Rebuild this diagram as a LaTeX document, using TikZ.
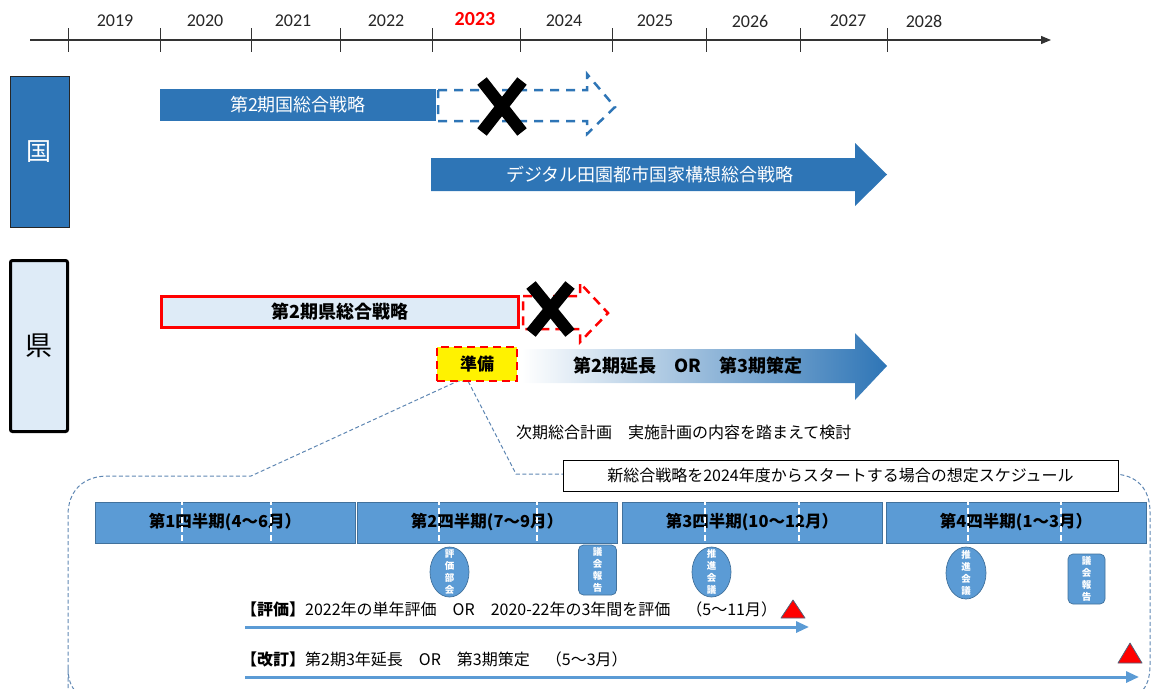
\documentclass[tikz,border=0pt]{standalone}
\usepackage{fontspec}
\setmainfont{Noto Sans CJK JP}
\newfontfamily\yrfont{Carlito}
\usetikzlibrary{arrows.meta,shapes.geometric}
\definecolor{dblue}{HTML}{2E75B6}
\definecolor{qblue}{HTML}{5B9BD5}
\definecolor{qborder}{HTML}{41719C}
\definecolor{lblue}{HTML}{DEEBF7}
\definecolor{cline}{HTML}{5F87B3}
\definecolor{tricol}{HTML}{50627A}
\newcommand{\fsz}[1]{\fontsize{#1}{#1}\selectfont}
\begin{document}
\begin{tikzpicture}[x=1pt,y=-1pt,
  yearlbl/.style={font=\yrfont\fsz{18}, text=black!85, inner sep=0pt},
  tickln/.style={line width=1pt, draw=black!80},
  kunibox/.style={draw=black!85, line width=0.8pt, fill=dblue, minimum width=59pt, minimum height=151pt, text=white, font=\fsz{25}, inner sep=0pt},
  kenbox/.style={draw=black, line width=3pt, rounded corners=2pt, fill=lblue, minimum width=57pt, minimum height=171pt, font=\fsz{27}, inner sep=0pt},
  bluebar/.style={fill=dblue, minimum width=276pt, minimum height=32pt, text=white, font=\fsz{18}, inner sep=0pt},
  kenbar/.style={fill=lblue, draw=red, line width=3pt, minimum width=357pt, minimum height=31pt, font=\bfseries\fsz{18}, inner sep=0pt},
  prepbox/.style={fill=yellow, draw=red, line width=2.5pt, dash pattern=on 8pt off 5pt, minimum width=80pt, minimum height=34pt, font=\bfseries\fsz{17}, inner sep=0pt},
  ghostblue/.style={draw=dblue, line width=2.5pt, dash pattern=on 9pt off 7pt},
  ghostred/.style={draw=red, line width=2.5pt, dash pattern=on 9pt off 6pt},
  crossln/.style={line width=12pt, draw=black},
  fatarrow/.style={fill=dblue},
  plain/.style={font=\fsz{16}, inner sep=0pt},
  callout/.style={draw=cline, line width=1pt, dash pattern=on 4pt off 2.5pt},
  titlebox/.style={draw=black, line width=0.9pt, fill=white, minimum width=555pt, minimum height=31pt, font=\fsz{16}, inner sep=0pt},
  qbar/.style={fill=qblue, draw=qborder, line width=0.8pt, minimum width=260pt, minimum height=41pt, font=\bfseries\fsz{16.5}, inner sep=0pt},
  qsep/.style={draw=white, line width=2pt, dash pattern=on 6pt off 3pt},
  evnode/.style={ellipse, fill=qblue, draw=qborder, line width=0.7pt, minimum width=39pt, minimum height=50pt, inner sep=0pt},
  repnode/.style={rectangle, rounded corners=5pt, fill=qblue, draw=qborder, line width=0.7pt, minimum width=38pt, minimum height=50pt, inner sep=0pt},
  vtext/.style={text=white, font=\bfseries\fontsize{9.5}{11.8}\selectfont, align=center, inner sep=0pt},
  schedarrow/.style={draw=qblue, line width=3pt, -{Triangle[length=13pt,width=11pt]}},
  redtri/.style={fill=red, draw=tricol, line width=0.8pt, line join=round}
]
\useasboundingbox (0,0) rectangle (1151,688);

% ---------- timeline ----------
\coordinate (tlS) at (30,40);
\coordinate (tlE) at (1051,40);
\draw[line width=1.2pt, draw=black!80, -{Triangle[length=10pt,width=8pt]}] (tlS) -- (tlE);
\foreach \x in {68,160,251,340,432,520,612,706,800,887}
  \draw[tickln] (\x,28) -- (\x,52);
\foreach \x/\yr in {115/2019,205/2020,293/2021,386/2022,564/2024,655/2025,750/2026,848/2027,924/2028}
  \node[yearlbl] (yr\yr) at (\x,21) {\yr};
\node[yearlbl, text=red, font=\yrfont\bfseries\fsz{20}] (yr2023) at (475,19) {2023};

% ---------- side labels ----------
\node[kunibox] (kuni) at (39.5,152) {国};
\node[kenbox] (ken) at (39,346) {県};

% ---------- national row ----------
\node[bluebar] (kuni2) at (298,105) {第2期国総合戦略};
\path[ghostblue] (438,90) -- (587,90) -- (587,74) -- (615,107) -- (587,134) -- (587,121) -- (438,121) -- cycle;
\draw[crossln] (482,81) -- (522,132);
\draw[crossln] (522,81) -- (482,132);
\path[fatarrow] (431,158) -- (855,158) -- (855,143) -- (887,174.5) -- (855,206) -- (855,191) -- (431,191) -- cycle;
\node[plain, text=white, font=\fsz{18}] (digital) at (650,174.5) {デジタル田園都市国家構想総合戦略};

% ---------- prefectural row ----------
\node[kenbar] (ken2) at (340,312) {第2期県総合戦略};
\path[ghostred] (523,296) -- (580,296) -- (580,283) -- (608,313) -- (580,342) -- (580,329) -- (523,329) -- cycle;
\draw[crossln] (531,285) -- (570,333);
\draw[crossln] (570,285) -- (531,333);
\path[left color=white, right color=dblue] (522,349) -- (855,349) -- (855,333) -- (887,366) -- (855,400) -- (855,383) -- (522,383) -- cycle;
\node[plain, font=\bfseries\fsz{18}] (nextterm) at (688,366) {第2期延長　OR　第3期策定};
\node[plain, anchor=west] (consider) at (516,432) {次期総合計画　実施計画の内容を踏まえて検討};

% ---------- callout ----------
\begin{scope}
\clip (0,0) rectangle (1151,688);
\draw[callout] (68,740) -- (68,515) .. controls (68,492) and (82,476) .. (108,476) -- (251,476) -- (458,381)
  -- (468,381) -- (516,474) -- (1112,474) .. controls (1138,474) and (1150,490) .. (1150,512)
  -- (1150,665) .. controls (1150,690) and (1138,700) .. (1115,700) -- (100,700) .. controls (80,700) and (68,690) .. (68,668) -- cycle;
\end{scope}
\node[prepbox] (prep) at (477,364) {準備};
\node[titlebox] (title) at (840.5,475.5) {新総合戦略を2024年度からスタートする場合の想定スケジュール};

% ---------- quarters ----------
\node[qbar] (q1) at (225,522.5) {第1四半期(4～6月）};
\node[qbar] (q2) at (487,522.5) {第2四半期(7～9月）};
\node[qbar] (q3) at (752,522.5) {第3四半期(10～12月）};
\node[qbar] (q4) at (1016,522.5) {第4四半期(1～3月）};
\foreach \x in {182,271,439,537,705,799,968,1061}
  \draw[qsep] (\x,499) -- (\x,547);

% ---------- meetings ----------
\node[evnode] (m1) at (449.5,572) {};
\node[vtext] at (m1) {評\\価\\部\\会};
\node[repnode] (m2) at (597.5,570) {};
\node[vtext] at (m2) {議\\会\\報\\告};
\node[evnode] (m3) at (711.5,572) {};
\node[vtext] at (m3) {推\\進\\会\\議};
\node[evnode, minimum width=40pt, minimum height=52pt] (m4) at (966,573) {};
\node[vtext] at (m4) {推\\進\\会\\議};
\node[repnode, minimum width=37pt] (m5) at (1086.5,579) {};
\node[vtext] at (m5) {議\\会\\報\\告};

% ---------- schedule arrows ----------
\node[plain, anchor=west] (evaltxt) at (241,609) {\textbf{【評価】}2022年の単年評価　OR　2020-22年の3年間を評価　（5～11月）};
\coordinate (ev0) at (245,627);
\coordinate (ev1) at (809,627);
\draw[schedarrow] (ev0) -- (ev1);
\path[redtri] (781,618) -- (793,600) -- (805,618) -- cycle;

\node[plain, anchor=west] (revtxt) at (241,659) {\textbf{【改訂】}第2期3年延長　OR　第3期策定　（5～3月）};
\coordinate (rv0) at (245,677);
\coordinate (rv1) at (1139,677);
\draw[schedarrow] (rv0) -- (rv1);
\path[redtri] (1118,663) -- (1130,643) -- (1142,663) -- cycle;
\end{tikzpicture}
\end{document}
